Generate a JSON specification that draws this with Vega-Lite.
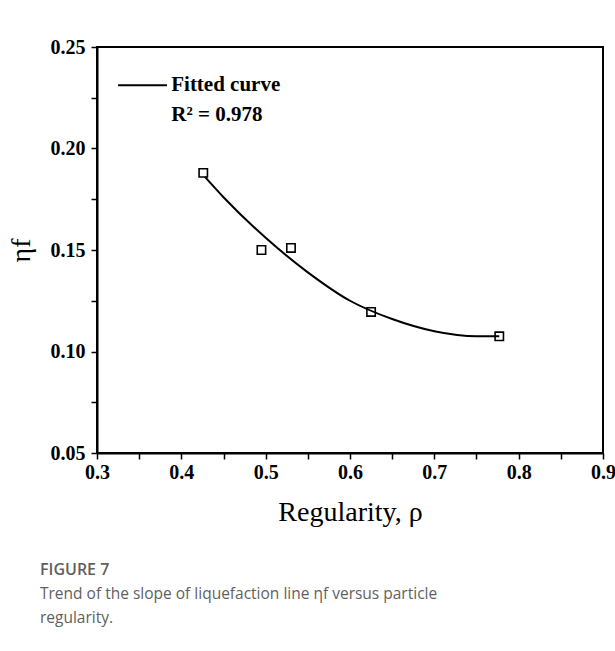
{
  "$schema": "https://vega.github.io/schema/vega-lite/v6.json",
  "width": 506,
  "height": 406,
  "autosize": {"type": "none"},
  "padding": {"left": 97, "top": 47, "right": 12, "bottom": 198},
  "background": "white",
  "config": {
    "view": {"stroke": "black", "strokeWidth": 2},
    "font": "Liberation Serif"
  },
  "title": {
    "text": "FIGURE 7",
    "subtitle": ["Trend of the slope of liquefaction line ηf versus particle", "regularity."],
    "orient": "bottom",
    "anchor": "start",
    "frame": "group",
    "offset": 36,
    "dx": -57,
    "font": "Open Sans",
    "fontSize": 16,
    "fontWeight": 600,
    "color": "#5f5f5f",
    "subtitleFont": "Open Sans",
    "subtitleFontSize": 15.5,
    "subtitleColor": "#5f5f5f",
    "subtitleLineHeight": 24,
    "subtitlePadding": 9
  },
  "datasets": {
    "pts": [
      {"x": 0.426, "y": 0.188},
      {"x": 0.495, "y": 0.150},
      {"x": 0.530, "y": 0.151},
      {"x": 0.625, "y": 0.1195},
      {"x": 0.777, "y": 0.1075}
    ],
    "fit": [
      {"x": 0.428, "y": 0.186},
      {"x": 0.45, "y": 0.176},
      {"x": 0.5, "y": 0.156},
      {"x": 0.55, "y": 0.139},
      {"x": 0.6, "y": 0.125},
      {"x": 0.65, "y": 0.116},
      {"x": 0.7, "y": 0.110},
      {"x": 0.75, "y": 0.1075},
      {"x": 0.777, "y": 0.1075}
    ],
    "legline": [
      {"x": 0.325, "y": 0.2312},
      {"x": 0.383, "y": 0.2312}
    ],
    "labels": [
      {"x": 0.388, "y": 0.2312, "t": "Fitted curve"},
      {"x": 0.388, "y": 0.2165, "t": "R² = 0.978"}
    ]
  },
  "encoding": {
    "x": {
      "field": "x", "type": "quantitative",
      "scale": {"domain": [0.3, 0.9], "nice": false, "zero": false},
      "axis": {
        "title": "Regularity, ρ",
        "values": [0.3, 0.35, 0.4, 0.45, 0.5, 0.55, 0.6, 0.65, 0.7, 0.75, 0.8, 0.85, 0.9],
        "labelExpr": "(round(datum.value*100) % 10 == 0) ? format(datum.value, '.1f') : ''",
        "labelFlush": false,
        "grid": false,
        "domainColor": "black", "domainWidth": 2,
        "tickColor": "black", "tickWidth": 1.5, "tickSize": 6,
        "labelFont": "Liberation Serif", "labelFontWeight": "bold", "labelFontSize": 20, "labelColor": "black",
        "labelPadding": 3,
        "titleFont": "Liberation Serif", "titleFontWeight": "normal", "titleFontSize": 28, "titleColor": "black",
        "titlePadding": 16
      }
    },
    "y": {
      "field": "y", "type": "quantitative",
      "scale": {"domain": [0.05, 0.25], "nice": false, "zero": false},
      "axis": {
        "title": "ηf",
        "values": [0.05, 0.075, 0.1, 0.125, 0.15, 0.175, 0.2, 0.225, 0.25],
        "labelExpr": "(round(datum.value*1000) % 50 == 0) ? format(datum.value, '.2f') : ''",
        "labelFlush": false,
        "grid": false,
        "domainColor": "black", "domainWidth": 2,
        "tickColor": "black", "tickWidth": 1.5, "tickSize": 6,
        "labelFont": "Liberation Serif", "labelFontWeight": "bold", "labelFontSize": 20, "labelColor": "black",
        "labelPadding": 6,
        "titleFont": "Liberation Serif", "titleFontWeight": "normal", "titleFontSize": 28, "titleColor": "black",
        "titlePadding": 15
      }
    }
  },
  "layer": [
    {
      "data": {"name": "fit"},
      "mark": {"type": "line", "color": "black", "strokeWidth": 2, "interpolate": "monotone"}
    },
    {
      "data": {"name": "pts"},
      "mark": {"type": "point", "shape": "square", "filled": false, "color": "black", "strokeWidth": 1.6, "size": 70, "opacity": 1}
    },
    {
      "data": {"name": "legline"},
      "mark": {"type": "line", "color": "black", "strokeWidth": 2}
    },
    {
      "data": {"name": "labels"},
      "mark": {"type": "text", "align": "left", "baseline": "middle", "font": "Liberation Serif", "fontWeight": "bold", "fontSize": 21, "color": "black"},
      "encoding": {"text": {"field": "t"}}
    }
  ]
}
